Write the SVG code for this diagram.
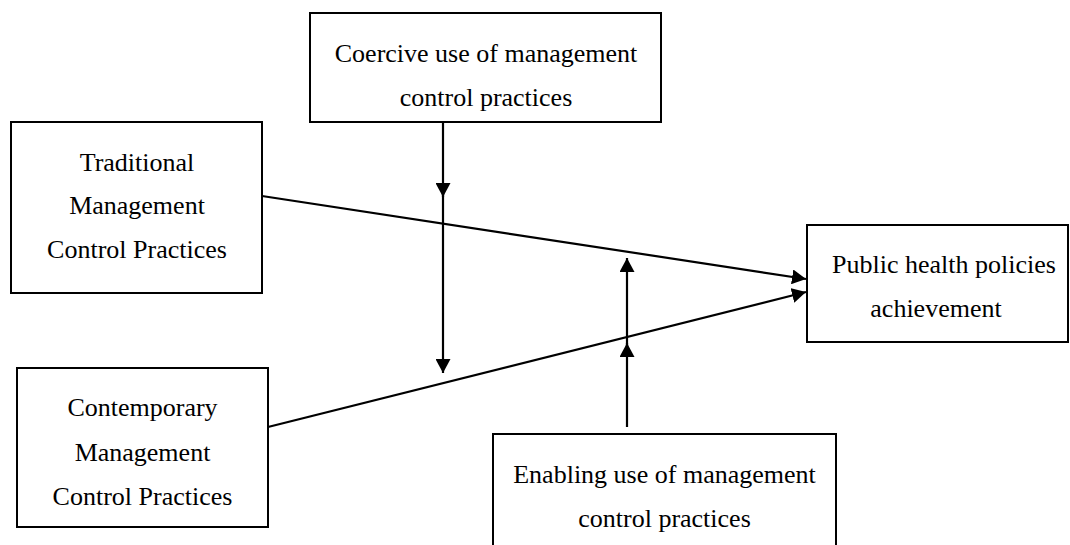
<svg xmlns="http://www.w3.org/2000/svg" width="1070" height="545" viewBox="0 0 1070 545">
<style>
.box{fill:#fff;stroke:#000;stroke-width:2}
.lbl{font-family:"Liberation Serif","Times New Roman",serif;font-size:26px;fill:#000;text-anchor:middle}
.con{stroke:#000;stroke-width:2.2;fill:none;marker-end:url(#ah)}
</style>
<defs>
<marker id="ah" markerUnits="userSpaceOnUse" markerWidth="15" markerHeight="15" refX="14" refY="7.5" orient="auto">
<path d="M0,0 L14,7.5 L0,15 z" fill="#000"/>
</marker>
</defs>
<rect width="1070" height="545" fill="#fff"/>
<g id="coercive">
<rect class="box" x="310" y="13" width="351" height="109"/>
<text class="lbl" x="486" y="62">Coercive use of management</text>
<text class="lbl" x="486" y="106">control practices</text>
</g>
<g id="traditional">
<rect class="box" x="11" y="122" width="251" height="171"/>
<text class="lbl" x="137" y="171">Traditional</text>
<text class="lbl" x="137" y="214">Management</text>
<text class="lbl" x="137" y="258">Control Practices</text>
</g>
<g id="public">
<rect class="box" x="807" y="225" width="261" height="117"/>
<text class="lbl" x="944" y="273">Public health policies</text>
<text class="lbl" x="936" y="317">achievement</text>
</g>
<g id="contemporary">
<rect class="box" x="17" y="368" width="251" height="159"/>
<text class="lbl" x="142.5" y="416">Contemporary</text>
<text class="lbl" x="142.5" y="461">Management</text>
<text class="lbl" x="142.5" y="505">Control Practices</text>
</g>
<g id="enabling">
<rect class="box" x="493" y="434" width="343" height="130"/>
<text class="lbl" x="664.5" y="483">Enabling use of management</text>
<text class="lbl" x="664.5" y="527">control practices</text>
</g>
<g id="connectors">
<line class="con" x1="262" y1="196" x2="806" y2="279"/>
<line class="con" x1="268" y1="427" x2="806" y2="292"/>
<line class="con" x1="443" y1="123" x2="443" y2="197"/>
<line class="con" x1="443" y1="190" x2="443" y2="373"/>
<line class="con" x1="627" y1="427" x2="627" y2="343"/>
<line class="con" x1="627" y1="350" x2="627" y2="258"/>
</g>
</svg>
